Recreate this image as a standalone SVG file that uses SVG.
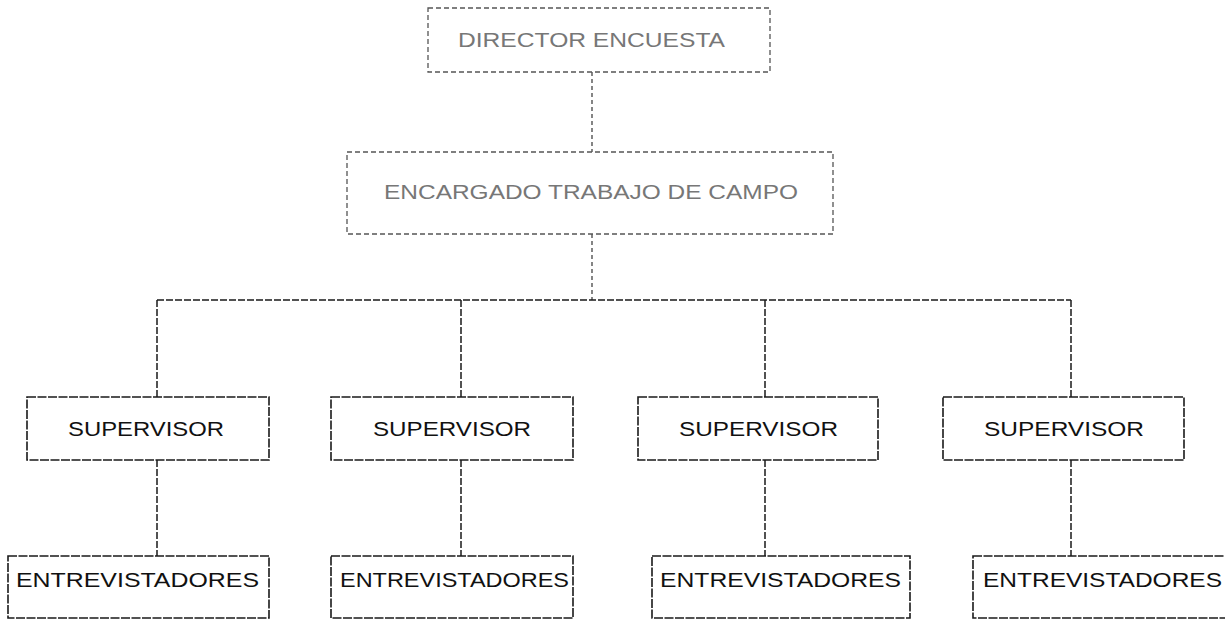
<svg xmlns="http://www.w3.org/2000/svg" width="1225" height="620" viewBox="0 0 1225 620">
<style>
.bg{fill:#ffffff}
.box{fill:none;stroke:#1a1a1a;stroke-width:1.6;stroke-dasharray:9 1.5}
.faint{fill:none;stroke:#555;stroke-width:1.3;stroke-dasharray:5 3}
.conn{fill:none;stroke:#1a1a1a;stroke-width:1.5;stroke-dasharray:7 2}
.connf{fill:none;stroke:#444;stroke-width:1.3;stroke-dasharray:4 3}
.lbl{font-family:"Liberation Sans","DejaVu Sans",sans-serif;font-size:20px;fill:#111}
.lblf{font-family:"Liberation Sans","DejaVu Sans",sans-serif;font-size:20px;fill:#777}
</style>
<rect class="bg" x="0" y="0" width="1225" height="620"/>
<g id="connectors">
<path class="connf" d="M592 72 V152"/>
<path class="connf" d="M592 234 V300"/>
<path class="conn" d="M157 300 H1071"/>
<path class="conn" d="M157 300 V397"/>
<path class="conn" d="M461 300 V397"/>
<path class="conn" d="M765 300 V397"/>
<path class="conn" d="M1071 300 V397"/>
<path class="conn" d="M157 460 V556"/>
<path class="conn" d="M461 460 V556"/>
<path class="conn" d="M765 460 V556"/>
<path class="conn" d="M1071 460 V556"/>
</g>
<g id="director">
<rect class="faint" x="428" y="8" width="342" height="64"/>
<text class="lblf" x="458" y="47" textLength="267" lengthAdjust="spacingAndGlyphs">DIRECTOR ENCUESTA</text>
</g>
<g id="encargado">
<rect class="faint" x="347" y="152" width="486" height="82"/>
<text class="lblf" x="384" y="199" textLength="414" lengthAdjust="spacingAndGlyphs">ENCARGADO TRABAJO DE CAMPO</text>
</g>
<g id="supervisor1">
<rect class="box" x="27" y="397" width="242" height="63"/>
<text class="lbl" x="68" y="436" textLength="156" lengthAdjust="spacingAndGlyphs">SUPERVISOR</text>
</g>
<g id="supervisor2">
<rect class="box" x="331" y="397" width="242" height="63"/>
<text class="lbl" x="373" y="436" textLength="158" lengthAdjust="spacingAndGlyphs">SUPERVISOR</text>
</g>
<g id="supervisor3">
<rect class="box" x="638" y="397" width="240" height="63"/>
<text class="lbl" x="679" y="436" textLength="159" lengthAdjust="spacingAndGlyphs">SUPERVISOR</text>
</g>
<g id="supervisor4">
<rect class="box" x="943" y="397" width="241" height="63"/>
<text class="lbl" x="984" y="436" textLength="160" lengthAdjust="spacingAndGlyphs">SUPERVISOR</text>
</g>
<g id="entrevistadores1">
<rect class="box" x="8" y="556" width="261" height="62"/>
<text class="lbl" x="16" y="587" textLength="243" lengthAdjust="spacingAndGlyphs">ENTREVISTADORES</text>
</g>
<g id="entrevistadores2">
<rect class="box" x="331" y="556" width="242" height="62"/>
<text class="lbl" x="340" y="587" textLength="229" lengthAdjust="spacingAndGlyphs">ENTREVISTADORES</text>
</g>
<g id="entrevistadores3">
<rect class="box" x="652" y="556" width="258" height="62"/>
<text class="lbl" x="660" y="587" textLength="241" lengthAdjust="spacingAndGlyphs">ENTREVISTADORES</text>
</g>
<g id="entrevistadores4">
<rect class="box" x="973" y="556" width="270" height="62"/>
<text class="lbl" x="983" y="587" textLength="239" lengthAdjust="spacingAndGlyphs">ENTREVISTADORES</text>
</g>
</svg>
